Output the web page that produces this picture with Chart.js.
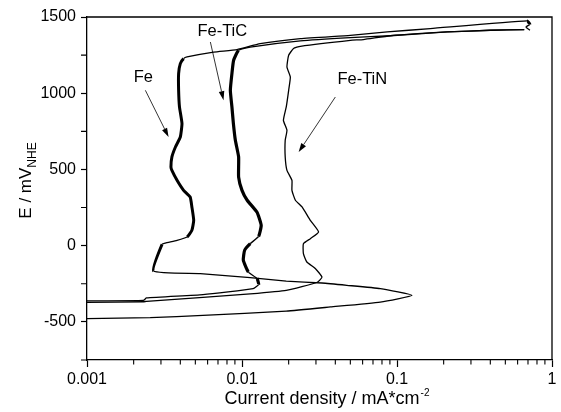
<!DOCTYPE html>
<html>
<head>
<meta charset="utf-8">
<script src="https://cdn.jsdelivr.net/npm/chart.js@4.4.1/dist/chart.umd.min.js"></script>
<style>
  body { margin: 0; background: #fff; }
</style>
</head>
<body>
<canvas id="myCanvas" width="561" height="412"></canvas>
<script>
// current density (mA/cm2) and potential (mV vs NHE)
const feCurrent = [0.001, 0.00256, 0.0056, 0.0193, 0.0372, 0.078, 0.125, 0.078, 0.0475, 0.0328, 0.0193, 0.0113, 0.00538, 0.00269,
    0.00305, 0.0032, 0.00381, 0.00442, 0.00475, 0.00488, 0.00475, 0.00463, 0.0042, 0.00381, 0.00353, 0.00348, 0.00353, 0.00372,
    0.0040, 0.0041, 0.00395, 0.0039, 0.0039, 0.0040, 0.0042, 0.00442, 0.00656, 0.00929, 0.0131, 0.0238, 0.05, 0.0865, 0.164,
    0.69, 0.72, 0.68, 0.72]
const fePotential = [-478, -472, -457, -429, -402, -370, -326, -282, -260, -245, -232, -210, -183, -166,
    9, 17, 35, 57, 101, 166, 254, 319, 363, 429, 494, 516, 582, 647,
    713, 801, 910, 1019, 1129, 1194, 1227, 1238, 1270, 1286, 1325, 1358, 1380, 1402, 1424,
    1474, 1452, 1435, 1413]

const feTiCCurrent = [0.001, 0.00231, 0.00242, 0.0056, 0.0118, 0.0128, 0.0125, 0.0110, 0.0102, 0.0104, 0.0113, 0.0128, 0.0133,
    0.0125, 0.0108, 0.0100, 0.00951, 0.00951, 0.00906, 0.0088, 0.00861, 0.00841, 0.00861, 0.00883, 0.00951, 0.0113, 0.0238,
    0.05, 0.0906, 0.211, 0.40, 0.662]
const feTiCPotential = [-362, -359, -343, -321, -282, -255, -216, -173, -96, -30, 13, 61, 134,
    219, 298, 363, 450, 582, 691, 801, 910, 1019, 1129, 1216, 1282, 1303, 1344,
    1365, 1377, 1402, 1413, 1417]

const feTiNCurrent = [0.001, 0.00231, 0.00242, 0.0056, 0.0113, 0.0193, 0.0306, 0.0328, 0.0297, 0.0262, 0.0249, 0.0249, 0.0276,
    0.0312, 0.0276, 0.0244, 0.0221, 0.021, 0.021, 0.0195, 0.019, 0.019, 0.0195, 0.0185, 0.0193, 0.020, 0.0205, 0.0195, 0.020,
    0.0215, 0.0238, 0.05, 0.0607, 0.0906, 0.211, 0.40, 0.662]
const feTiNPotential = [-372, -368, -365, -339, -316, -293, -240, -206, -150, -107, -52, 13, 46,
    90, 166, 254, 298, 363, 429, 494, 582, 691, 757, 822, 910, 1019, 1106, 1172, 1249,
    1293, 1308, 1347, 1352, 1377, 1402, 1413, 1417]

const seriesNames = ['Fe', 'Fe-TiC', 'Fe-TiN']

const xTickValues = [0.001, 0.01, 0.1, 1]
const yTickValues = [-500, 0, 500, 1000, 1500]
const yMinorValues = [-750, -250, 250, 750, 1250]

// labels with arrows, in data units
const noteText = ['Fe', 'Fe-TiC', 'Fe-TiN']
const noteX = [0.00231, 0.00746, 0.0597]
const noteY = [1104, 1406, 1091]
const arrowFromX = [0.00238, 0.00625, 0.040]
const arrowFromY = [1019, 1336, 975]
const arrowToX = [0.00336, 0.0076, 0.0232]
const arrowToY = [713, 954, 614]

const FONT = "'Liberation Sans', Arial, sans-serif"

function points(xs, ys) {
    return xs.map((v, i) => ({ x: v, y: ys[i] }))
}

// thick where the trace runs up and down (the noisy parts), thin elsewhere
function steepWidth(thick) {
    return ctx => Math.abs(ctx.p1.y - ctx.p0.y) > Math.abs(ctx.p1.x - ctx.p0.x) ? thick : 1.3
}

const decorations = {
    id: 'decorations',
    afterDraw(chart) {
        const { ctx, chartArea: a, scales: { x, y } } = chart
        ctx.save()
        ctx.strokeStyle = '#000'
        ctx.fillStyle = '#000'

        // frame top and right
        ctx.lineWidth = 1.3
        ctx.beginPath()
        ctx.moveTo(a.left, a.top)
        ctx.lineTo(a.right, a.top)
        ctx.lineTo(a.right, a.bottom)
        ctx.stroke()

        // minor ticks
        ctx.lineWidth = 1.1
        ctx.beginPath()
        for (let d = 0; d < xTickValues.length - 1; d++) {
            for (let m = 2; m <= 9; m++) {
                const px = x.getPixelForValue(xTickValues[d] * m)
                ctx.moveTo(px, a.bottom)
                ctx.lineTo(px, a.bottom + 4.5)
            }
        }
        yMinorValues.forEach(v => {
            const py = y.getPixelForValue(v)
            ctx.moveTo(a.left, py)
            ctx.lineTo(a.left - 6, py)
        })
        ctx.stroke()

        // x title with superscript
        const mainX = 'Current density / mA*cm'
        ctx.font = '18px ' + FONT
        const w1 = ctx.measureText(mainX).width
        ctx.font = '10px ' + FONT
        const w2 = ctx.measureText('-2').width
        let sx = (a.left + a.right) / 2 + 7 - (w1 + w2) / 2
        ctx.textAlign = 'left'
        ctx.textBaseline = 'alphabetic'
        ctx.font = '18px ' + FONT
        ctx.fillText(mainX, sx, 404)
        ctx.font = '10px ' + FONT
        ctx.fillText('-2', sx + w1 + 1, 396)

        // y title with subscript
        ctx.save()
        ctx.translate(31, (a.top + a.bottom) / 2 - 8)
        ctx.rotate(-Math.PI / 2)
        ctx.font = '17px ' + FONT
        const t1 = ctx.measureText('E / mV').width
        ctx.font = '12px ' + FONT
        const t2 = ctx.measureText('NHE').width
        const start = -(t1 + t2) / 2
        ctx.font = '17px ' + FONT
        ctx.fillText('E / mV', start, 0)
        ctx.font = '12px ' + FONT
        ctx.fillText('NHE', start + t1, 5)
        ctx.restore()

        // notes and arrows
        ctx.font = '16.5px ' + FONT
        ctx.textAlign = 'center'
        ctx.textBaseline = 'middle'
        noteText.forEach((t, i) => {
            ctx.fillText(t, x.getPixelForValue(noteX[i]), y.getPixelForValue(noteY[i]))
            const x0 = x.getPixelForValue(arrowFromX[i]), y0 = y.getPixelForValue(arrowFromY[i])
            const x1 = x.getPixelForValue(arrowToX[i]), y1 = y.getPixelForValue(arrowToY[i])
            const ang = Math.atan2(y1 - y0, x1 - x0)
            const hl = 9, hw = 2.8
            const bx = x1 - hl * Math.cos(ang), by = y1 - hl * Math.sin(ang)
            ctx.lineWidth = 0.8
            ctx.beginPath()
            ctx.moveTo(x0, y0)
            ctx.lineTo(bx, by)
            ctx.stroke()
            ctx.beginPath()
            ctx.moveTo(x1, y1)
            ctx.lineTo(bx + hw * Math.sin(ang), by - hw * Math.cos(ang))
            ctx.lineTo(bx - hw * Math.sin(ang), by + hw * Math.cos(ang))
            ctx.closePath()
            ctx.fill()
        })
        ctx.restore()
    }
}

const ctx = document.getElementById('myCanvas')
new Chart(ctx, {
    type: 'scatter',
    data: {
        datasets: [
            { label: seriesNames[0], data: points(feCurrent, fePotential), segment: { borderWidth: steepWidth(3) } },
            { label: seriesNames[1], data: points(feTiCCurrent, feTiCPotential), segment: { borderWidth: steepWidth(3.2) } },
            { label: seriesNames[2], data: points(feTiNCurrent, feTiNPotential), borderWidth: 1.3 }
        ].map(ds => Object.assign({
            showLine: true,
            borderColor: '#000',
            backgroundColor: '#000',
            borderWidth: 1.3,
            pointRadius: 0,
            fill: false,
            tension: 0.15
        }, ds))
    },
    options: {
        responsive: false,
        devicePixelRatio: 1,
        animation: false,
        layout: { padding: { left: 0, top: 17, right: 9, bottom: 0 } },
        plugins: {
            legend: { display: false },
            tooltip: { enabled: false },
            title: { display: false }
        },
        scales: {
            x: {
                type: 'logarithmic',
                min: 0.001,
                max: 1,
                afterBuildTicks: scale => { scale.ticks = xTickValues.map(v => ({ value: v })) },
                afterFit: scale => { scale.height = 52 },
                ticks: {
                    color: '#000',
                    font: { family: FONT, size: 16 },
                    padding: 3,
                    maxRotation: 0,
                    autoSkip: false,
                    callback: v => String(v)
                },
                grid: { display: true, drawOnChartArea: false, drawTicks: true, tickLength: 7, tickColor: '#000', tickWidth: 1.2 },
                border: { display: true, color: '#000', width: 1.3 }
            },
            y: {
                min: -750,
                max: 1500,
                afterBuildTicks: scale => { scale.ticks = yTickValues.map(v => ({ value: v })) },
                afterFit: scale => { scale.width = 87 },
                ticks: {
                    color: '#000',
                    font: { family: FONT, size: 16 },
                    padding: 5,
                    autoSkip: false,
                    callback: v => String(v)
                },
                grid: { display: true, drawOnChartArea: false, drawTicks: true, tickLength: 6, tickColor: '#000', tickWidth: 1.2 },
                border: { display: true, color: '#000', width: 1.3 }
            }
        }
    },
    plugins: [decorations]
})
</script>
</body>
</html>
